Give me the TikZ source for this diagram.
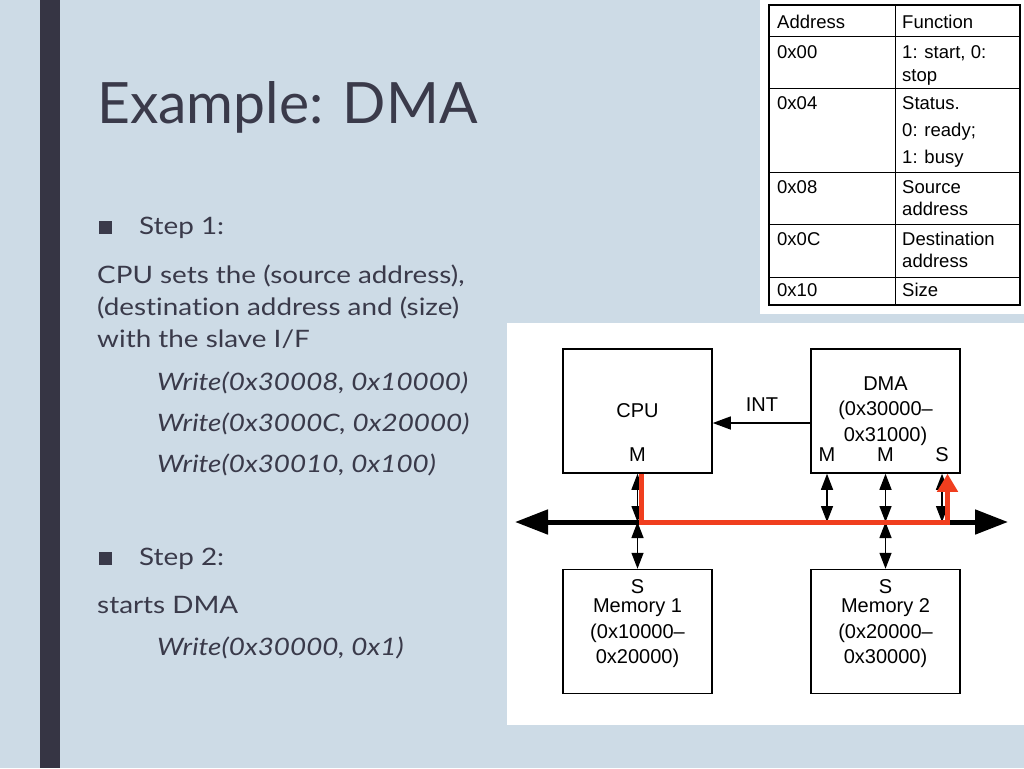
\documentclass[tikz,border=0pt]{standalone}
\usepackage{fontspec}
\setmainfont{Lato}
\newfontfamily\bodyfont[FakeStretch=1.16,Ligatures=NoCommon]{Lato}
\newfontfamily\arial{Liberation Sans}
\usetikzlibrary{arrows.meta,positioning}
\definecolor{slidebg}{RGB}{205,219,230}
\definecolor{slidebar}{RGB}{54,53,68}
\definecolor{slidetext}{RGB}{58,58,74}
\definecolor{pathred}{RGB}{240,62,30}

\begin{document}
\begin{tikzpicture}[x=1pt,y=-1pt,
  box/.style={draw,line width=1.5pt,minimum width=149pt,minimum height=124pt,inner sep=0pt,
    align=center,font=\arial\fontsize{20}{25.5}\selectfont},
  lbl/.style={inner sep=0pt,font=\arial\fontsize{20}{25.5}\selectfont,align=center},
  cell/.style={anchor=base west,inner sep=0pt,font=\arial\fontsize{18.5}{22}\selectfont},
  line/.style={anchor=base west,inner sep=0pt,text=slidetext,font=\bodyfont\fontsize{24}{30}\selectfont},
  code/.style={line,font=\bodyfont\fontsize{24}{30}\selectfont\itshape},
  bullet/.style={fill=slidetext,minimum size=13pt,inner sep=0pt},
  bus/.style={line width=5pt,{Triangle[length=33pt,width=24pt]}-{Triangle[length=33pt,width=24pt]}},
  dbl/.style={line width=1.4pt,{Triangle[length=16pt,width=12pt]}-{Triangle[length=16pt,width=12pt]}},
  redpath/.style={pathred,line width=5pt,-{Triangle[length=18pt,width=20pt]}}]
\useasboundingbox (0,0) rectangle (1024,768);
\fill[slidebg] (0,0) rectangle (1024,768);
\fill[slidebar] (40,0) rectangle (60,768);

% slide text
\node[anchor=base west,inner sep=0pt,text=slidetext,font=\fontsize{57}{60}\selectfont] (title) at (97,123) {Example: DMA};
\node[bullet] (b1) at (105,227.5) {};
\node[line] (step1) at (139,234) {Step 1:};
\node[line] (s1a) at (97,283) {CPU sets the (source address),};
\node[line] (s1b) at (97,315) {(destination address and (size)};
\node[line] (s1c) at (97,347) {with the slave I/F};
\node[code] (w1) at (157,390) {Write(0x30008, 0x10000)};
\node[code] (w2) at (157,431) {Write(0x3000C, 0x20000)};
\node[code] (w3) at (157,472) {Write(0x30010, 0x100)};
\node[bullet] (b2) at (105,558.5) {};
\node[line] (step2) at (139,565) {Step 2:};
\node[line] (s2a) at (97,613) {starts DMA};
\node[code] (w4) at (157,655) {Write(0x30000, 0x1)};

% register table
\fill[white] (760,0) rectangle (1024,314);
\draw[line width=1.5pt] (769,5) rectangle (1020,305);
\draw[line width=1pt] (895,5) -- (895,305);
\foreach \y in {37,88,172,224,277}
  \draw[line width=1pt] (769,\y) -- (1020,\y);
\node[cell] (h1) at (777,28.5) {Address};
\node[cell] (h2) at (902,28.5) {Function};
\node[cell] (a0) at (777,58.5) {0x00};
\node[cell] (f0a) at (902,58.5) {1: start, 0:};
\node[cell] (f0b) at (902,81.5) {stop};
\node[cell] (a4) at (777,109.5) {0x04};
\node[cell] (f4a) at (902,109.5) {Status.};
\node[cell] (f4b) at (902,136.5) {0: ready;};
\node[cell] (f4c) at (902,163.5) {1: busy};
\node[cell] (a8) at (777,193.5) {0x08};
\node[cell] (f8a) at (902,193.5) {Source};
\node[cell] (f8b) at (902,215.5) {address};
\node[cell] (ac) at (777,245.5) {0x0C};
\node[cell] (fca) at (902,245.5) {Destination};
\node[cell] (fcb) at (902,267.5) {address};
\node[cell] (a10) at (777,296.5) {0x10};
\node[cell] (f10) at (902,296.5) {Size};

% bus diagram
\fill[white] (507,323) rectangle (1024,725);
\node[box] (cpu) at (637.5,411) {CPU};
\node[box] (dma) at (885.5,411) {DMA\\(0x30000–\\0x31000)};
\node[box] (mem1) at (637.5,631.5) {};
\node[box] (mem2) at (885.5,631.5) {};
\node[lbl] (mem1txt) at (637.5,633.5) {Memory 1\\(0x10000–\\0x20000)};
\node[lbl] (mem2txt) at (885.5,633.5) {Memory 2\\(0x20000–\\0x30000)};
\node[lbl] (cpum) at (637.5,455) {M};
\node[lbl] (dmam1) at (827,455) {M};
\node[lbl] (dmam2) at (885.5,455) {M};
\node[lbl] (dmas) at (942,455) {S};
\node[lbl] (mem1s) at (637.5,586.5) {S};
\node[lbl] (mem2s) at (885.5,586.5) {S};
\node[lbl] (int) at (762,405) {INT};

\coordinate (busl) at (515,522);
\coordinate (busr) at (1008,522);
\draw[bus] (busl) -- (busr);
\draw[line width=1.4pt,-{Triangle[length=18pt,width=13pt]}] ([yshift=-12pt]dma.west) -- ([yshift=-12pt]cpu.east);

\draw[dbl] (cpu.south) -- (cpu.south |- busl);
\draw[dbl] (mem1.north |- busl) -- (mem1.north);
\draw[dbl] (dmam1 |- dma.south) -- (dmam1 |- busl);
\draw[dbl] (dma.south) -- (dma.south |- busl);
\draw[dbl] (dmas |- dma.south) -- (dmas |- busl);
\draw[dbl] (mem2.north |- busl) -- (mem2.north);

\coordinate (redstart) at ([xshift=4pt]cpu.south);
\coordinate (redend) at ([xshift=62pt]dma.south);
\draw[redpath] (redstart) -- (redstart |- busl) -| (redend);
\end{tikzpicture}
\end{document}
